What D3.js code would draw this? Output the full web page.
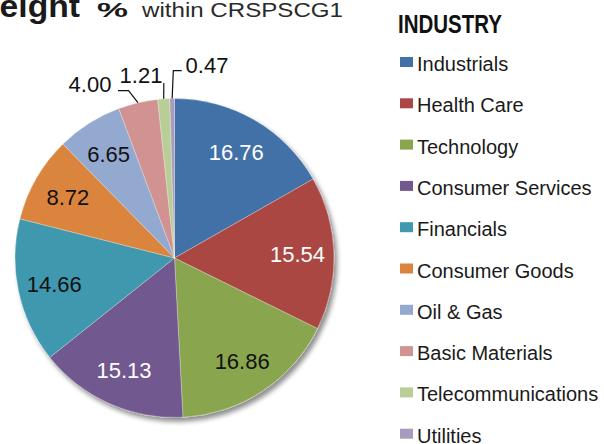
<!DOCTYPE html>
<html>
<head>
<meta charset="utf-8">
<script src="https://cdn.jsdelivr.net/npm/d3@7"></script>
<style>
  body { margin: 0; background: #fff; }
  svg { display: block; }
</style>
</head>
<body>
<div id="chart"></div>
<script>
// Industry weights (% within CRSPSCG1), clockwise from 12 o'clock
const industries = ["Industrials", "Health Care", "Technology", "Consumer Services", "Financials",
  "Consumer Goods", "Oil & Gas", "Basic Materials", "Telecommunications", "Utilities"];
const weights = [16.76, 15.54, 16.86, 15.13, 14.66, 8.72, 6.65, 4.00, 1.21, 0.47];
const colors = ["#4271a7", "#aa4643", "#89a54e", "#71588f", "#4198af",
  "#db843d", "#93a9cf", "#d19392", "#b9cd96", "#a99bbd"];
const whiteLabels = ["Industrials", "Health Care", "Consumer Services"];
// small slices get callout labels outside the pie
const outside = ["Basic Materials", "Telecommunications", "Utilities"];

const width = 604, height = 444;
const cx = 174.5, cy = 258, radius = 159.5, labelR = 123;

const svg = d3.select("#chart").append("svg")
  .attr("width", width)
  .attr("height", height)
  .style("font-family", "'Liberation Sans', Arial, sans-serif");

// soft drop shadow under the pie
const defs = svg.append("defs");
const f = defs.append("filter").attr("id", "shadow")
  .attr("x", "-10%").attr("y", "-10%").attr("width", "130%").attr("height", "130%");
f.append("feGaussianBlur").attr("in", "SourceAlpha").attr("stdDeviation", 2.5).attr("result", "blur");
f.append("feOffset").attr("in", "blur").attr("dx", 3).attr("dy", 4).attr("result", "off");
f.append("feComponentTransfer").attr("in", "off").attr("result", "shade")
  .append("feFuncA").attr("type", "linear").attr("slope", 0.45);
const merge = f.append("feMerge");
merge.append("feMergeNode").attr("in", "shade");
merge.append("feMergeNode").attr("in", "SourceGraphic");

// title (the leading "W" runs off the left edge)
const title = svg.append("g");
title.append("text")
  .attr("x", -31.6).attr("y", 17)
  .attr("textLength", 111.6).attr("lengthAdjust", "spacingAndGlyphs")
  .attr("font-size", 31).attr("font-weight", "bold").attr("fill", "#1a1a1a")
  .text("Weight");
title.append("text")
  .attr("x", 97).attr("y", 16.5)
  .attr("textLength", 31).attr("lengthAdjust", "spacingAndGlyphs")
  .attr("font-size", 21).attr("font-weight", "bold").attr("fill", "#1a1a1a")
  .text("%");
title.append("text")
  .attr("x", 142).attr("y", 16.5)
  .attr("textLength", 201).attr("lengthAdjust", "spacingAndGlyphs")
  .attr("font-size", 20.5).attr("fill", "#2a2a2a")
  .text("within CRSPSCG1");

const data = industries.map((name, i) => ({ name, value: weights[i], color: colors[i] }));
const pie = d3.pie().value(d => d.value).sort(null);
const arcs = pie(data);
const arc = d3.arc().innerRadius(0).outerRadius(radius);
const labelArc = d3.arc().innerRadius(labelR).outerRadius(labelR);
const edgeArc = d3.arc().innerRadius(radius).outerRadius(radius);

const g = svg.append("g").attr("transform", `translate(${cx},${cy})`);

g.append("g").attr("filter", "url(#shadow)")
  .selectAll("path")
  .data(arcs)
  .join("path")
  .attr("d", arc)
  .attr("fill", d => d.data.color)
  .attr("stroke", "#ffffff")
  .attr("stroke-opacity", 0.5)
  .attr("stroke-width", 0.6);

// inside labels
g.selectAll(".inlabel")
  .data(arcs.filter(d => !outside.includes(d.data.name)))
  .join("text")
  .attr("class", "inlabel")
  .attr("transform", d => `translate(${labelArc.centroid(d)})`)
  .attr("text-anchor", "middle")
  .attr("dy", "0.36em")
  .attr("font-size", 22)
  .attr("fill", d => whiteLabels.includes(d.data.name) ? "#ffffff" : "#111111")
  .text(d => d3.format(".2f")(d.data.value));

// callout labels for the thin slices, positions relative to pie centre
const callouts = {
  "Basic Materials": { text: [-84.5, -173.5], line: [[-56.5, -167.3], [-46, -167.3]] },
  "Telecommunications": { text: [-33.5, -183], line: [[-10.7, -175]] },
  "Utilities": { text: [32.5, -193], line: [[7.2, -187.3], [-1.2, -187.3]] }
};

arcs.filter(d => outside.includes(d.data.name)).forEach(d => {
  const c = callouts[d.data.name];
  const edge = edgeArc.centroid(d);
  const pts = c.line.concat([edge]);
  g.append("path")
    .attr("d", d3.line()(pts))
    .attr("fill", "none")
    .attr("stroke", "#111")
    .attr("stroke-width", 1.2);
  g.append("text")
    .attr("x", c.text[0]).attr("y", c.text[1])
    .attr("text-anchor", "middle")
    .attr("dy", "0.36em")
    .attr("font-size", 22)
    .attr("fill", "#111")
    .text(d3.format(".2f")(d.data.value));
});

// legend
const legend = svg.append("g");
legend.append("text")
  .attr("x", 398).attr("y", 33)
  .attr("textLength", 104).attr("lengthAdjust", "spacingAndGlyphs")
  .attr("font-size", 25).attr("font-weight", "bold").attr("fill", "#111")
  .text("INDUSTRY");

const rowY = d3.scalePoint().domain(industries).range([71, 442.7]);
const rows = legend.selectAll(".row")
  .data(data)
  .join("g")
  .attr("class", "row")
  .attr("transform", d => `translate(400,${rowY(d.name)})`);
rows.append("rect")
  .attr("x", 0).attr("y", -14)
  .attr("width", 13).attr("height", 10)
  .attr("fill", d => d.color);
rows.append("text")
  .attr("x", 17).attr("y", 0)
  .attr("font-size", 20)
  .attr("fill", "#1a1a1a")
  .text(d => d.name);
</script>
</body>
</html>
